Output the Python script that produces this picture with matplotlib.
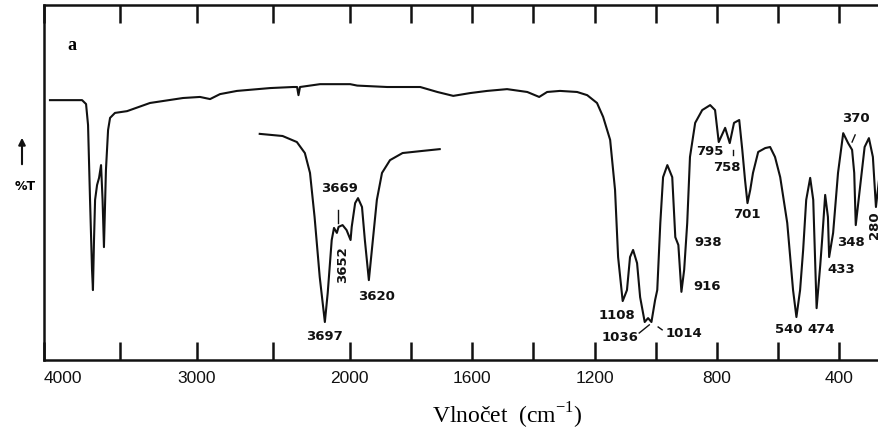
import numpy as np
import matplotlib
matplotlib.use("Agg")
import matplotlib.pyplot as plt

plt.rcParams['mathtext.fontset'] = 'custom'
plt.rcParams['mathtext.rm'] = 'Liberation Serif'

# hlavni spektrum (vlnocet cm-1, %T)
vlnocet = [3961, 3751, 3725, 3712, 3699, 3686, 3680, 3673, 3666, 3653, 3640, 3627,
           3617, 3608, 3595, 3581, 3568, 3536, 3457, 3307, 3091, 2980, 2914, 2849,
           2738, 2522, 2372, 2345, 2336, 2326, 2195, 1999, 1976, 1878, 1770, 1714,
           1662, 1606, 1551, 1486, 1420, 1381, 1355, 1313, 1257, 1224, 1192, 1172,
           1149, 1133, 1123, 1108, 1094, 1084, 1074, 1061, 1051, 1036, 1025, 1014,
           1002, 995, 985, 976, 962, 946, 936, 926, 916, 907, 897, 888, 871, 848,
           822, 806, 794, 773, 758, 744, 727, 717, 708, 700, 691, 682, 665, 642,
           626, 610, 593, 570, 551, 540, 528, 518, 508, 495, 485, 474, 462, 456,
           446, 437, 433, 420, 404, 387, 371, 358, 351, 346, 333, 317, 303, 290,
           280, 267]
T = [73.2, 73.2, 72.1, 66.2, 45.1, 25.4, 19.7, 33.8, 45.1, 49.3, 51.3, 54.9,
     45.1, 31.8, 53.5, 64.8, 68.2, 69.6, 70.1, 72.4, 73.8, 74.1, 73.5, 74.9,
     75.8, 76.6, 76.9, 76.9, 74.6, 76.9, 77.7, 77.7, 77.3, 76.9, 76.9, 75.5,
     74.4, 75.2, 75.8, 76.3, 75.5, 74.1, 75.5, 75.8, 75.5, 74.6, 72.4, 68.5,
     62.0, 47.9, 29.0, 16.6, 19.7, 29.0, 31.0, 27.3, 17.7, 10.7, 11.8, 10.7,
     16.9, 19.7, 38.6, 51.5, 54.9, 51.5, 34.6, 32.4, 19.2, 25.4, 38.6, 57.2,
     66.8, 70.4, 71.8, 70.4, 61.4, 65.4, 61.1, 66.8, 67.6, 59.2, 50.7, 44.2,
     47.9, 52.7, 58.6, 59.7, 60.0, 57.2, 51.5, 38.6, 19.7, 12.1, 19.7, 31.0,
     45.1, 51.3, 45.1, 14.6, 26.8, 33.8, 46.5, 40.3, 29.0, 35.8, 52.7, 63.9,
     61.1, 59.2, 52.7, 38.0, 47.9, 60.0, 62.5, 57.2, 43.1, 53.0]

# zvetseny detail oblasti OH
vlnocet_oh = [3811, 3771, 3746, 3732, 3723, 3715, 3706, 3697, 3692, 3685, 3681,
              3676, 3673, 3666, 3659, 3652, 3650, 3644, 3639, 3632, 3627, 3620,
              3613, 3606, 3597, 3583, 3561, 3526, 3496]
T_oh = [63.7, 63.1, 61.4, 58.3, 52.7, 40.3, 23.4, 10.7, 18.9, 33.8, 37.2,
        35.8, 37.5, 38.0, 36.6, 33.8, 37.5, 44.2, 45.6, 43.1, 33.8, 22.5,
        33.8, 45.1, 52.7, 56.3, 58.3, 58.9, 59.4]

ticks = [4000, 3500, 3000, 2500, 2000, 1800, 1600, 1400, 1200, 1000, 800, 600, 400]
tick_labels = ['4000', '', '3000', '', '2000', '', '1600', '', '1200', '', '800', '', '400']

# popisky pasu: text, vlnocet, %T, rotace
popisky = [('1108', 1126, 12.4, 0), ('1036', 1116, 6.2, 0), ('1014', 907, 7.6, 0),
           ('938', 829, 33.0, 0), ('916', 832, 20.6, 0), ('795', 822, 58.6, 0),
           ('758', 768, 54.1, 0), ('701', 701, 41.1, 0), ('540', 564, 8.5, 0),
           ('474', 459, 8.5, 0), ('433', 394, 25.6, 0), ('348', 361, 33.2, 0),
           ('370', 345, 67.9, 0), ('280', 286, 38.0, 90)]
popisky_oh = [('3697', 3697, 6.5, 0), ('3669', 3672, 48.2, 0),
              ('3652', 3666, 26.8, 90), ('3620', 3606, 18.0, 0)]


def forward(w):
    w = np.asarray(w, dtype=float)
    return np.where(w >= 2000, 1000 + w / 2, w)


def inverse(u):
    u = np.asarray(u, dtype=float)
    return np.where(u >= 2000, (u - 1000) * 2, u)


fig = plt.figure(figsize=(8.79, 4.41), dpi=100)
ax = fig.add_axes([44 / 879, 81 / 441, 835 / 879, 355 / 441])
ax.set_xscale('function', functions=(forward, inverse))
ax.plot(vlnocet, T, color='#111111', lw=1.5, solid_joinstyle='round')
ax.set_xlim(4000, 270)
ax.set_ylim(0, 100)

ax.set_xticks(ticks)
ax.set_xticklabels(tick_labels, family=['Liberation Sans Narrow', 'Liberation Sans'],
                   fontsize=12.5)
ax.get_xticklabels()[0].set_horizontalalignment('left')
ax.set_yticks([])
ax.minorticks_off()
ax.tick_params(axis='x', direction='in', top=True, length=13, width=1.8, pad=8,
               colors='#111111')
ax.spines['right'].set_visible(False)
for s in ['left', 'top', 'bottom']:
    ax.spines[s].set_linewidth(1.8)
    ax.spines[s].set_color('#111111')

for txt, w, t, rot in popisky:
    ax.text(w, t, txt, ha='center', va='center', rotation=rot, fontsize=9.5,
            fontweight='bold', color='#111111')
# male carky k popiskum
ax.plot([1054, 1021], [7.6, 9.9], color='#111111', lw=1)
ax.plot([992, 979], [9.3, 8.5], color='#111111', lw=1)
ax.plot([747, 747], [59.2, 57.7], color='#111111', lw=1)
ax.plot([348, 358], [63.4, 61.4], color='#111111', lw=1)

ax.text(3817, 88.7, 'a', ha='center', va='center', fontsize=13,
        family='Liberation Serif', fontweight='bold')

# vlozeny graf
axi = ax.inset_axes([(258 - 44) / 835, 0, (442 - 258) / 835, 1])
axi.plot(vlnocet_oh, T_oh, color='#111111', lw=1.5, solid_joinstyle='round')
axi.set_xlim(3814, 3492)
axi.set_ylim(0, 100)
axi.axis('off')
for txt, w, t, rot in popisky_oh:
    axi.text(w, t, txt, ha='center', va='center', rotation=rot, fontsize=9.5,
             fontweight='bold', color='#111111')
axi.plot([3674, 3674], [42.3, 38.6], color='#111111', lw=1)

ax.set_xlabel('Vlnočet  (cm$^{\\mathregular{-1}}$)', family='Liberation Serif',
              fontsize=17)
ax.xaxis.set_label_coords((507 - 44) / 835, -0.115)

fig.text(25 / 879, 1 - 186 / 441, '%T', ha='center', va='center', fontsize=9,
         fontweight='bold')
fig.patches.append(matplotlib.patches.FancyArrowPatch(
    (22 / 879, 1 - 167 / 441), (22 / 879, 1 - 135 / 441), transform=fig.transFigure,
    arrowstyle='-|>', mutation_scale=10, lw=1.5, color='#111111'))

fig.savefig('out.png', dpi=100)
